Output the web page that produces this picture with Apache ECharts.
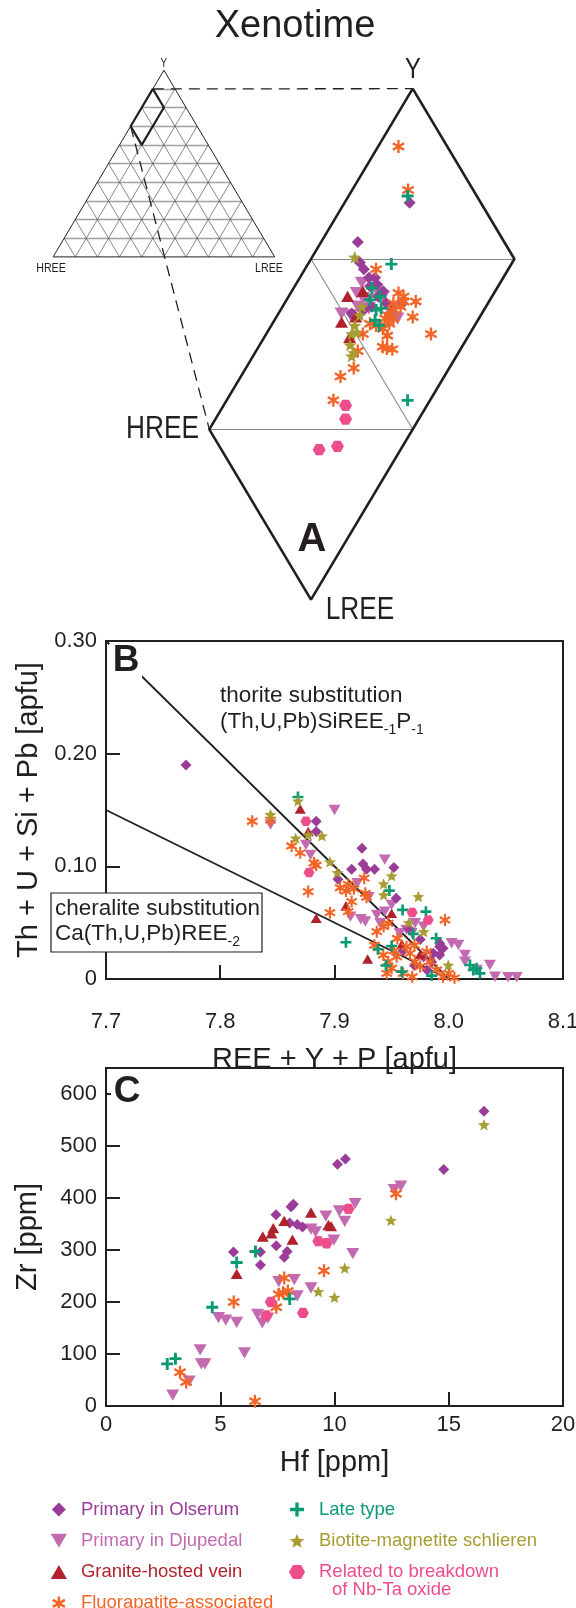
<!DOCTYPE html>
<html><head><meta charset="utf-8">
<script src="https://cdn.jsdelivr.net/npm/echarts@6/dist/echarts.min.js"></script>
<style>html,body{margin:0;padding:0;background:#fff}#c{width:576px;height:1608px}</style>
</head><body><div id="c"></div>
<script>
// ===== DATA =====
// Panel A: ternary compositions [Y %, LREE %] (HREE = 100 - Y - LREE)
const olserumA = [[83.3,3.2],[81.0,1.8],[79.8,2.5],[79.4,2.9],[78.9,3.4],[78.9,3.7],[78.5,4.0],[78.4,3.7],[78.1,4.5],[77.8,4.4],[77.4,5.0],[77.2,5.3],[77.2,4.4],[77.0,4.1],[76.8,3.6],[77.1,5.4],[77.4,5.8]];
const djupedalA = [[78.6,3.2],[78.0,3.25],[77.7,3.7],[77.6,4.0],[78.2,4.1],[76.8,3.1],[76.7,3.6],[77.1,4.3],[76.6,5.7],[76.5,6.0],[77.2,3.7],[77.8,4.65]];
const graniteA = [[78.1,3.5],[77.8,2.9],[76.3,3.35],[75.4,4.2],[76.6,3.9]];
const fluorA = [[86.6,1.0],[84.05,2.75],[79.4,3.5],[78.0,5.3],[77.5,5.8],[77.5,6.4],[77.4,5.35],[77.0,5.55],[76.7,5.45],[76.5,5.4],[76.5,5.8],[76.6,6.7],[75.6,8.1],[75.9,5.6],[75.5,6.0],[76.1,5.15],[74.85,6.1],[74.7,6.65],[74.75,6.35],[75.6,4.75],[73.6,5.3],[73.1,4.9],[71.7,5.25],[76.2,4.8],[77.2,5.8],[76.2,5.75],[77.8,5.65],[74.6,5.0]];
const lateA = [[83.7,2.9],[79.7,4.1],[78.3,3.85],[77.8,4.5],[77.6,4.1],[77.0,4.7],[76.4,4.95],[77.1,4.9],[76.1,5.3],[71.7,8.9]];
const biotiteA = [[80.1,2.1],[76.1,4.1],[76.7,4.05],[75.6,4.2],[75.7,4.4],[74.95,4.45],[74.5,4.85],[74.3,4.85],[77.2,3.9]];
const nbtaA = [[71.4,6.0],[70.6,6.4],[69.0,6.8],[68.8,6.0]];
// ternary frame: enlarged field [Y %, LREE %] and inner guide lines
const fieldBox = [[90,0],[80,10],[60,10],[70,0],[90,0]];
const fieldGuides = [[[80,0],[80,10]],[[70,0],[70,10]],[[80,0],[70,10]]];
const insetTicks = [10,20,30,40,50,60,70,80,90];

// Panel B: [REE + Y + P, Th + U + Si + Pb] (apfu)
const olserumB = [[7.770,0.190],[7.884,0.140],[7.884,0.131],[7.924,0.116],[7.915,0.0975],[7.925,0.102],[7.928,0.0975],[7.935,0.0975],[7.952,0.099],[7.903,0.0886],[7.954,0.0717],[7.992,0.0317],[7.995,0.0273],[7.9865,0.0228],[7.978,0.0198],[7.981,0.008],[7.992,0.0213],[7.992,0.0287],[7.965,0.045],[7.975,0.035],[7.960,0.025],[7.970,0.012],[7.985,0.015]];
const djupedalB = [[7.900,0.150],[7.844,0.137],[7.875,0.119],[7.879,0.110],[7.944,0.106],[7.930,0.0726],[7.914,0.0554],[7.923,0.053],[7.927,0.051],[7.937,0.0569],[7.940,0.0495],[7.944,0.0598],[7.950,0.0658],[7.9705,0.0495],[7.978,0.0465],[7.957,0.0406],[7.963,0.0436],[7.9676,0.0406],[8.0084,0.0302],[8.0142,0.0213],[8.036,0.0124],[8.0245,0.008],[8.0405,0.002],[8.052,0.0015],[8.0595,0.0015],[8.0025,0.0317],[8.0142,0.0154],[7.920,0.085]];
const graniteB = [[7.870,0.151],[7.877,0.131],[7.910,0.0649],[7.884,0.054],[7.950,0.0584],[7.929,0.0178],[7.959,0.031],[7.975,0.022]];
const fluorB = [[7.828,0.140],[7.844,0.141],[7.8625,0.118],[7.870,0.112],[7.882,0.103],[7.884,0.101],[7.877,0.0776],[7.905,0.081],[7.912,0.084],[7.917,0.080],[7.910,0.078],[7.927,0.076],[7.928,0.0726],[7.926,0.0895],[7.915,0.0687],[7.912,0.0598],[7.896,0.0589],[7.9967,0.0524],[7.937,0.042],[7.943,0.0465],[7.947,0.0495],[7.9427,0.0213],[7.947,0.0154],[7.950,0.0095],[7.9544,0.0198],[7.963,0.0287],[7.966,0.0228],[7.9705,0.0154],[7.975,0.011],[7.9836,0.0154],[7.9894,0.008],[7.995,0.002],[7.9457,0.005],[7.960,0.005],[7.9807,0.0243],[7.935,0.030],[7.955,0.036],[7.970,0.030],[8.000,0.005],[8.005,0.001],[7.968,0.002],[7.952,0.025]];
const lateB = [[7.868,0.1615],[7.948,0.0785],[7.9596,0.0613],[7.980,0.0598],[7.969,0.040],[7.989,0.0362],[7.910,0.0326],[7.938,0.0264],[7.950,0.0293],[8.0186,0.0124],[8.0245,0.0095],[8.0273,0.005],[7.9588,0.0065],[8.0215,0.008],[7.945,0.012],[7.985,0.003]];
const biotiteB = [[7.868,0.158],[7.844,0.146],[7.877,0.128],[7.889,0.127],[7.866,0.125],[7.896,0.104],[7.9025,0.0945],[7.950,0.0916],[7.943,0.0844],[7.943,0.0747],[7.9734,0.0732],[7.978,0.042],[7.9996,0.0124],[7.965,0.050]];
const nbtaB = [[7.875,0.140],[7.8777,0.0945],[7.968,0.059],[7.982,0.0524]];
const thoriteLine = [[7.7,0.30],[8.0,0]];
const cheraliteLine = [[7.7,0.15],[8.0,0]];

// Panel C: [Hf ppm, Zr ppm]
const olserumC = [[16.54,567],[14.78,455],[10.13,465],[10.48,475],[8.2,388],[8.1,383],[7.44,368],[8.04,352],[8.37,349],[8.6,344],[5.58,296],[6.76,296],[6.76,271],[7.45,308],[7.93,297],[7.8,286]];
const djupedalC = [[12.61,416],[12.9,423],[10.9,389],[10.21,375],[9.62,365],[10.45,355],[8.97,340],[9.17,335],[9.97,319],[10.8,293],[7.56,239],[8.24,243],[8.97,227],[8.37,212],[4.92,170],[5.24,165],[5.72,161],[6.63,176],[6.84,160],[7.08,169],[4.12,108],[4.17,81],[4.33,81],[3.64,48],[2.92,21],[6.06,102]];
const graniteC = [[8.97,372],[7.8,356],[7.32,342],[7.24,332],[6.86,326],[8.16,320],[9.73,348],[9.85,346],[5.72,254]];
const fluorC = [[12.69,408],[9.54,260],[7.8,246],[7.56,215],[7.96,221],[7.75,218],[7.45,190],[5.59,200],[3.24,65],[3.51,46],[6.52,9]];
const lateC = [[6.54,297],[5.72,276],[4.65,190],[8.04,206],[2.68,81],[3.04,91]];
const biotiteC = [[16.54,541],[12.47,357],[10.45,265],[9.29,220],[10.0,209]];
const nbtaC = [[10.61,379],[9.29,317],[9.65,313],[7.21,200],[7.02,174],[8.62,179]];

// ===== STYLE =====
const FONT = 'Liberation Sans, Arial, Helvetica, sans-serif';
const INK = '#231f20';
const S3 = Math.sqrt(3) / 2;
const SYM = {
  diamond: 'path://M50 0L100 50L50 100L0 50Z',
  down: 'path://M0 0L100 0L50 86.6Z',
  up: 'path://M50 0L100 86.6L0 86.6Z',
  aster: 'path://M41 0H59V100H41Z M2.2 32.8L11.2 17.2L97.8 67.2L88.8 82.8Z M11.2 82.8L2.2 67.2L88.8 17.2L97.8 32.8Z',
  plus: 'path://M38 0H62V38H100V62H62V100H38V62H0V38H38Z',
  star: 'path://M50 0L62.9 32.2L97.6 34.5L70.9 56.8L79.4 90.5L50 72L20.6 90.5L29.1 56.8L2.4 34.5L37.1 32.2Z',
  hex: 'path://M0 50L25 6.7L75 6.7L100 50L75 93.3L25 93.3Z'
};
function tern(Y, L) { return [L + Y / 2, Y * S3]; }
function ternPct(p) { return tern(p[0] / 100, p[1] / 100); }

const groups = [
  {name:'Primary in Djupedal', color:'#c26bb0', sym:SYM.down, A:djupedalA, B:djupedalB, C:djupedalC, sizes:[14,12,13]},
  {name:'Primary in Olserum', color:'#993d99', sym:SYM.diamond, A:olserumA, B:olserumB, C:olserumC, sizes:[12,11,11]},
  {name:'Granite-hosted vein', color:'#b1232c', sym:SYM.up, A:graniteA, B:graniteB, C:graniteC, sizes:[13,11,12]},
  {name:'Fluorapatite-associated', color:'#f26527', sym:SYM.aster, A:fluorA, B:fluorB, C:fluorC, sizes:[13,12,13]},
  {name:'Late type', color:'#0c9a73', sym:SYM.plus, A:lateA, B:lateB, C:lateC, sizes:[12,11,12]},
  {name:'Biotite-magnetite schlieren', color:'#a89d33', sym:SYM.star, A:biotiteA, B:biotiteB, C:biotiteC, sizes:[13,12,12]},
  {name:'Related to breakdown\n of Nb-Ta oxide', color:'#ee4d8b', sym:SYM.hex, A:nbtaA, B:nbtaB, C:nbtaC, sizes:[13,11,12]}
];
const byName = {}; groups.forEach(g => byName[g.name] = g);

// ===== inset grid lines =====
const hLines = [], dLines = [];
insetTicks.forEach(t => {
  const f = t / 100;
  hLines.push({coords: [tern(f, 0), tern(f, 1 - f)]});
  dLines.push({coords: [tern(0, f), tern(1 - f, f)]});
  dLines.push({coords: [tern(0, 1 - f), tern(1 - f, 0)]});
});

const series = [
  {type:'lines', coordinateSystem:'cartesian2d', xAxisIndex:0, yAxisIndex:0, silent:true, z:1,
   data:hLines, lineStyle:{color:'#a0a0a0', width:1.3, opacity:1}},
  {type:'lines', coordinateSystem:'cartesian2d', xAxisIndex:0, yAxisIndex:0, silent:true, z:1,
   data:dLines, lineStyle:{color:'#555', width:0.7, opacity:1}},
  {type:'line', xAxisIndex:0, yAxisIndex:0, silent:true, showSymbol:false, z:2, clip:false,
   data:[tern(1,0), tern(0,0), tern(0,1), tern(1,0)], lineStyle:{color:INK, width:1}},
  {type:'line', xAxisIndex:0, yAxisIndex:0, silent:true, showSymbol:false, z:3, clip:false,
   data:fieldBox.map(ternPct), lineStyle:{color:INK, width:2.2}},
  {type:'lines', coordinateSystem:'cartesian2d', xAxisIndex:1, yAxisIndex:1, silent:true, z:1,
   data:fieldGuides.map(s => ({coords: s.map(ternPct)})), lineStyle:{color:'#8a8a8a', width:1.1, opacity:1}},
  {type:'line', xAxisIndex:1, yAxisIndex:1, silent:true, showSymbol:false, z:2, clip:false,
   data:fieldBox.map(ternPct), lineStyle:{color:INK, width:2.6}},
  {type:'line', xAxisIndex:2, yAxisIndex:2, silent:true, showSymbol:false, z:2,
   data:thoriteLine, lineStyle:{color:INK, width:1.8}},
  {type:'line', xAxisIndex:2, yAxisIndex:2, silent:true, showSymbol:false, z:2,
   data:cheraliteLine, lineStyle:{color:INK, width:1.8}}
];
groups.forEach(g => {
  const base = {type:'scatter', name:g.name, symbol:g.sym, symbolKeepAspect:true,
    itemStyle:{color:g.color, opacity:1}, z:5, silent:true};
  series.push(Object.assign({}, base, {xAxisIndex:1, yAxisIndex:1, clip:false, symbolSize:g.sizes[0], data:g.A.map(ternPct)}));
  series.push(Object.assign({}, base, {xAxisIndex:2, yAxisIndex:2, symbolSize:g.sizes[1], data:g.B}));
  series.push(Object.assign({}, base, {xAxisIndex:3, yAxisIndex:3, symbolSize:g.sizes[2], data:g.C}));
});

const tickCommon = {inside:true, length:14, lineStyle:{color:INK, width:2}};
const labelCommon = {fontSize:22, color:INK, fontFamily:FONT};
const nameStyle = {fontSize:29, color:INK, fontFamily:FONT};
const frame = {show:true, borderColor:INK, borderWidth:2, backgroundColor:'transparent', outerBoundsMode:'none', containLabel:false};

const legendBase = {orient:'vertical', top:1500, height:200, itemWidth:34, itemHeight:14, itemGap:12.3, padding:0,
  symbolKeepAspect:true, selectedMode:false, textStyle:{fontSize:18.5, fontFamily:FONT, lineHeight:18},
  formatter: n => n.split('\n')[0]};
const legendItem = n => ({name:n, textStyle:{color:byName[n].color}});

const option = {
  animation:false,
  backgroundColor:'#ffffff',
  grid:[
    {left:53.1, top:70.2, width:221.6, height:186.7, show:false, outerBoundsMode:'none', containLabel:false},
    {left:209.3, top:88.7, width:305.1, height:510.9, show:false, outerBoundsMode:'none', containLabel:false},
    Object.assign({left:106, top:641, width:457, height:338}, frame),
    Object.assign({left:106, top:1068, width:457, height:338}, frame)
  ],
  xAxis:[
    {gridIndex:0, type:'value', min:0, max:1, show:false},
    {gridIndex:1, type:'value', min:0.35, max:0.5, show:false},
    {gridIndex:2, type:'value', min:7.7, max:8.1, interval:0.1, axisLine:{show:false}, splitLine:{show:false},
     axisTick:tickCommon, axisLabel:Object.assign({margin:32, formatter:v => v.toFixed(1)}, labelCommon),
     name:'REE + Y + P [apfu]', nameLocation:'middle', nameGap:66, nameTextStyle:nameStyle},
    {gridIndex:3, type:'value', min:0, max:20, interval:5, axisLine:{show:false}, splitLine:{show:false},
     axisTick:tickCommon, axisLabel:Object.assign({margin:8}, labelCommon),
     name:'Hf [ppm]', nameLocation:'middle', nameGap:42, nameTextStyle:nameStyle}
  ],
  yAxis:[
    {gridIndex:0, type:'value', min:0, max:S3, show:false},
    {gridIndex:1, type:'value', min:0.6 * S3, max:0.9 * S3, show:false},
    {gridIndex:2, type:'value', min:0, max:0.3, interval:0.1, axisLine:{show:false}, splitLine:{show:false},
     axisTick:tickCommon, axisLabel:Object.assign({margin:9, formatter:v => v === 0 ? '0' : v.toFixed(2)}, labelCommon),
     name:'Th + U + Si + Pb [apfu]', nameLocation:'middle', nameGap:61, nameTextStyle:nameStyle},
    {gridIndex:3, type:'value', min:0, max:650, interval:100, axisLine:{show:false}, splitLine:{show:false},
     axisTick:tickCommon, axisLabel:Object.assign({margin:9, showMaxLabel:false}, labelCommon),
     name:'Zr [ppm]', nameLocation:'middle', nameGap:64, nameTextStyle:nameStyle}
  ],
  legend:[
    Object.assign({left:50.8, data:['Primary in Olserum','Primary in Djupedal','Granite-hosted vein','Fluorapatite-associated'].map(legendItem)}, legendBase),
    Object.assign({left:288.9, data:['Late type','Biotite-magnetite schlieren','Related to breakdown\n of Nb-Ta oxide'].map(legendItem)}, legendBase)
  ],
  series:series
};

const chart = echarts.init(document.getElementById('c'), null, {renderer:'canvas', width:576, height:1608});
chart.setOption(option);

const pI = p => chart.convertToPixel({gridIndex:0}, ternPct(p));
const pT = p => chart.convertToPixel({gridIndex:1}, ternPct(p));
const a1 = pI(fieldBox[0]), b1 = pT(fieldBox[0]);
const a2 = pI(fieldBox[3]), b2 = pT(fieldBox[3]);
const txt = (x, y, text, font, extra) => Object.assign({type:'text', x:x, y:y, z:20,
  style:{text:text, font:font, fill:INK, align:'center', verticalAlign:'middle'}}, extra || {});
const narrow = (x, y, text, size, align) => ({type:'text', x:x, y:y, scaleX:0.82, z:20,
  style:{text:text, font:size + 'px ' + FONT, fill:INK, align:align || 'center', verticalAlign:'middle'}});

const graphic = [
  txt(295, 27, 'Xenotime', '38px ' + FONT),
  narrow(163.7, 63.3, 'Y', 12),
  narrow(51, 268, 'HREE', 13),
  narrow(269, 268, 'LREE', 13),
  narrow(413, 70, 'Y', 29),
  narrow(199, 429, 'HREE', 32, 'right'),
  narrow(360, 610, 'LREE', 32),
  txt(312, 540, 'A', 'bold 40px ' + FONT),
  {type:'line', z:15, shape:{x1:a1[0], y1:a1[1], x2:b1[0], y2:b1[1]}, style:{stroke:INK, lineWidth:1.3, lineDash:[11,7]}},
  {type:'line', z:15, shape:{x1:a2[0], y1:a2[1], x2:b2[0], y2:b2[1]}, style:{stroke:INK, lineWidth:1.3, lineDash:[11,7]}},
  {type:'rect', z:18, shape:{x:109, y:644, width:33, height:34}, style:{fill:'#fff'}},
  txt(126, 661, 'B', 'bold 37px ' + FONT),
  {type:'text', x:220, y:696, z:20, style:{text:'thorite substitution', font:'22.5px ' + FONT, fill:INK, align:'left', verticalAlign:'middle'}},
  {type:'text', x:220, y:722, z:20, style:{text:'{a|(Th,U,Pb)SiREE}{s|-1}{a|P}{s|-1}', align:'left', verticalAlign:'middle',
    rich:{a:{fontSize:22.5, fontFamily:FONT, fill:INK, lineHeight:30, verticalAlign:'middle'},
          s:{fontSize:14, fontFamily:FONT, fill:INK, lineHeight:14, verticalAlign:'bottom'}}}},
  {type:'rect', z:18, shape:{x:51, y:893, width:211, height:59}, style:{fill:'#fff', stroke:INK, lineWidth:1.2}},
  {type:'text', x:55, y:909, z:20, style:{text:'cheralite substitution', font:'22.5px ' + FONT, fill:INK, align:'left', verticalAlign:'middle'}},
  {type:'text', x:55, y:934, z:20, style:{text:'{a|Ca(Th,U,Pb)REE}{s|-2}', align:'left', verticalAlign:'middle',
    rich:{a:{fontSize:22.5, fontFamily:FONT, fill:INK, lineHeight:30, verticalAlign:'middle'},
          s:{fontSize:14, fontFamily:FONT, fill:INK, lineHeight:14, verticalAlign:'bottom'}}}},
  {type:'rect', z:18, shape:{x:111, y:1075, width:32, height:34}, style:{fill:'#fff'}},
  txt(127, 1092, 'C', 'bold 37px ' + FONT),
  {type:'text', x:332, y:1590, z:20, style:{text:'of Nb-Ta oxide', font:'18.5px ' + FONT, fill:byName['Related to breakdown\n of Nb-Ta oxide'].color, align:'left', verticalAlign:'middle'}}
];
chart.setOption({graphic:{elements:graphic}});
</script>
</body></html>
